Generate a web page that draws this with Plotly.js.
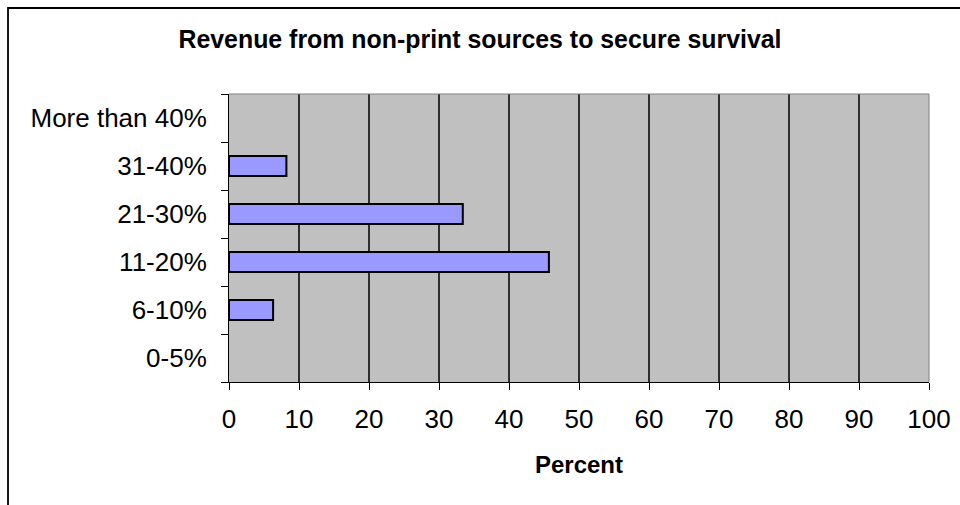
<!DOCTYPE html>
<html>
<head>
<meta charset="utf-8">
<script src="https://cdn.plot.ly/plotly-3.0.1.min.js"></script>
<style>
  html, body { margin: 0; padding: 0; background: #ffffff; }
  #chart { width: 960px; height: 505px; }
</style>
</head>
<body>
<div id="chart"></div>
<script>
// Share of revenue that must come from non-print sources
const categories = ['0-5%', '6-10%', '11-20%', '21-30%', '31-40%', 'More than 40%'];
const percentValues = [null, 6.3, 45.7, 33.4, 8.2, null];
const xTickValues = [0, 10, 20, 30, 40, 50, 60, 70, 80, 90, 100];

const chartTitle = 'Revenue from non-print sources to secure survival';
const xAxisTitle = 'Percent';

const FONT = '"Liberation Sans", Arial, sans-serif';

const trace = {
  type: 'bar',
  orientation: 'h',
  y: categories,
  x: percentValues,
  marker: {
    color: '#9999FF',
    line: { color: '#000000', width: 2 }
  },
  hoverinfo: 'x+y'
};

const layout = {
  width: 960,
  height: 505,
  margin: { l: 229, r: 31, t: 94, b: 123 },
  paper_bgcolor: '#ffffff',
  plot_bgcolor: '#C0C0C0',
  showlegend: false,
  bargap: 0.58,
  font: { family: FONT, color: '#000000', size: 26 },
  title: {
    text: '<b>' + chartTitle + '</b>',
    font: { family: FONT, size: 24.9, color: '#000000' },
    xref: 'container',
    x: 0.5,
    xanchor: 'center',
    yref: 'container',
    y: 0.922,
    yanchor: 'middle'
  },
  xaxis: {
    range: [0, 100],
    tickvals: xTickValues,
    ticktext: xTickValues.map(String),
    ticks: 'outside',
    ticklen: 7,
    tickwidth: 1,
    tickcolor: '#000000',
    tickfont: { family: FONT, size: 26, color: '#000000' },
    ticklabelstandoff: 7,
    showgrid: true,
    gridcolor: '#2e2e2e',
    gridwidth: 1.2,
    zeroline: false,
    showline: true,
    linecolor: '#000000',
    linewidth: 1,
    fixedrange: true,
    title: {
      text: '<b>' + xAxisTitle + '</b>',
      font: { family: FONT, size: 24, color: '#000000' },
      standoff: 22
    }
  },
  yaxis: {
    type: 'category',
    categoryorder: 'array',
    categoryarray: categories,
    range: [-0.5, categories.length - 0.5],
    tickson: 'boundaries',
    ticks: 'outside',
    ticklen: 7,
    tickwidth: 1,
    tickcolor: '#000000',
    tickfont: { family: FONT, size: 26, color: '#000000' },
    ticklabelstandoff: 16,
    showgrid: false,
    zeroline: false,
    showline: true,
    linecolor: '#000000',
    linewidth: 1,
    fixedrange: true
  },
  shapes: [
    // grey border on the top and right of the plot area
    { type: 'line', xref: 'paper', yref: 'paper', x0: 0, x1: 1, y0: 1, y1: 1,
      line: { color: '#808080', width: 1 } },
    { type: 'line', xref: 'paper', yref: 'paper', x0: 1, x1: 1, y0: 0, y1: 1,
      line: { color: '#808080', width: 1 } },
    // outer chart frame
    { type: 'rect', xref: 'paper', yref: 'paper',
      x0: -0.3157, x1: 1.2, y0: -1, y1: 1.2986,
      line: { color: '#000000', width: 1.8 }, fillcolor: 'rgba(0,0,0,0)' }
  ]
};

Plotly.newPlot('chart', [trace], layout, { displayModeBar: false, staticPlot: true });
</script>
</body>
</html>
